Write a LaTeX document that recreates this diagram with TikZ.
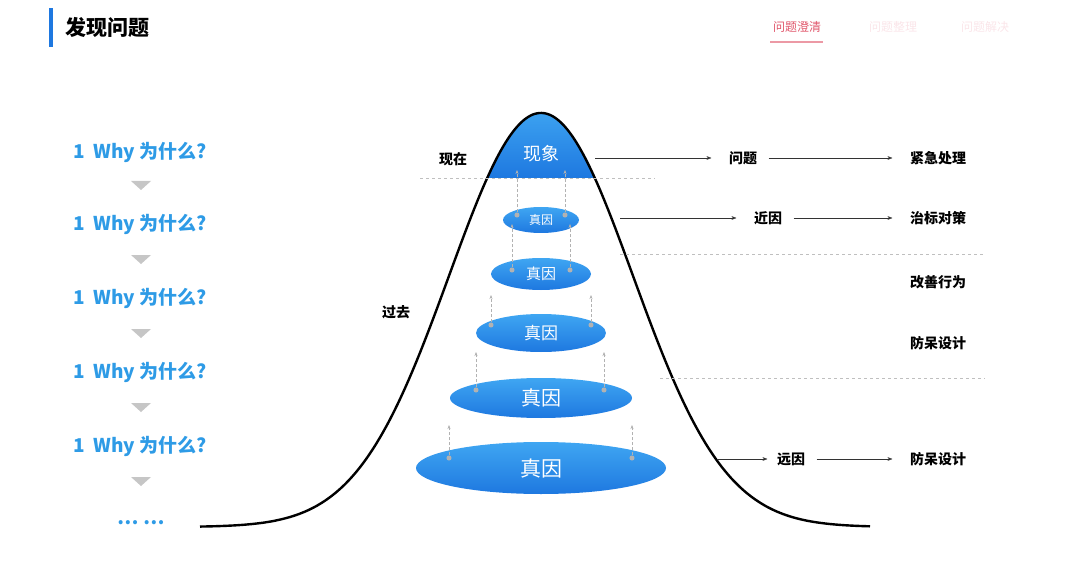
\documentclass[tikz,border=0pt]{standalone}
\usepackage{fontspec}
\setmainfont{Noto Sans CJK SC}
\usetikzlibrary{arrows.meta,shapes.geometric}
\definecolor{wblue}{HTML}{2E9BE6}
\definecolor{eblue}{HTML}{1E78E0}
\definecolor{elight}{HTML}{3FA6F2}
\definecolor{tabred}{HTML}{E0556A}
\tikzset{
  lbl/.style={font=\bfseries\fontsize{14}{16}\selectfont},
  why/.style={font=\bfseries\fontsize{19}{21}\selectfont, text=wblue},
  zy/.style={ellipse, draw=none, top color=elight, bottom color=eblue, text=white, inner sep=0pt},
  arr/.style={-{Stealth[length=5pt]}, thin, black!80, shorten >=14pt, shorten <=8pt},
  up/.style={-{Stealth[length=4pt]}, densely dashed, gray!60},
  dot/.style={circle, fill=gray!60, inner sep=1.8pt},
  dl/.style={dashed, gray!50},
  tri/.style={fill=gray!45}
}
\begin{document}
\begin{tikzpicture}[x=1pt,y=-1pt]
\useasboundingbox (0,0) rectangle (1080,567);
% header
\fill[eblue] (49,8) rectangle (53,47);
\node[font=\bfseries\fontsize{21}{23}\selectfont] (title) at (107,27) {发现问题};
\node[font=\fontsize{12}{14}\selectfont, text=tabred] (t1) at (797,27) {问题澄清};
\draw[tabred!60, line width=1.5pt] (770,42) -- (823,42);
\node[font=\fontsize{12}{14}\selectfont, text=tabred!15] (t2) at (893,27) {问题整理};
\node[font=\fontsize{12}{14}\selectfont, text=tabred!15] (t3) at (985,27) {问题解决};
% cap fill
\begin{scope}
\clip plot[domain=440:642, samples=80, smooth] (\x,{527-414*exp(-0.5*((\x-541)/92)^2)}) -- cycle;
\fill[top color=elight, bottom color=eblue] (430,105) rectangle (660,178);
\end{scope}
% bell
\draw[line width=2.4pt] plot[domain=200:870, samples=150, smooth] (\x,{527-414*exp(-0.5*((\x-541)/92)^2)});
% dashed lines
\draw[dl] (420,178) -- (655,178);
\draw[dl] (620,254) -- (985,254);
\draw[dl] (660,378) -- (985,378);
\node[text=white, font=\fontsize{18}{20}\selectfont] (xx) at (541,154) {现象};
% ellipses
\node[zy, minimum width=76pt, minimum height=26pt, font=\fontsize{12}{14}\selectfont] (e1) at (541,220) {真因};
\node[zy, minimum width=100pt, minimum height=32pt, font=\fontsize{15}{17}\selectfont] (e2) at (541,274) {真因};
\node[zy, minimum width=130pt, minimum height=38pt, font=\fontsize{17}{19}\selectfont] (e3) at (541,333) {真因};
\node[zy, minimum width=182pt, minimum height=40pt, font=\fontsize{20}{22}\selectfont] (e4) at (541,398) {真因};
\node[zy, minimum width=250pt, minimum height=52pt, font=\fontsize{21}{23}\selectfont] (e5) at (541,468) {真因};
% dots and up arrows
\foreach \n/\xa/\xb/\y/\t in {1/517/565/215/170, 2/512/570/270/224, 3/491/591/325/295, 4/476/604/390/352, 5/449/632/458/425}{
  \node[dot] (da\n) at (\xa,\y) {};
  \node[dot] (db\n) at (\xb,\y) {};
  \coordinate (ua\n) at (\xa,\t);
  \coordinate (ub\n) at (\xb,\t);
  \draw[up] (da\n) -- (ua\n);
  \draw[up] (db\n) -- (ub\n);
}
% labels
\node[lbl] (now) at (453,159) {现在};
\node[lbl] (past) at (396,312) {过去};
\node[lbl] (q) at (743,158) {问题};
\node[lbl] (q2) at (938,158) {紧急处理};
\node[lbl] (n) at (768,218) {近因};
\node[lbl] (n2) at (938,218) {治标对策};
\node[lbl] (g) at (938,282) {改善行为};
\node[lbl] (f) at (938,343) {防呆设计};
\node[lbl] (y) at (791,459) {远因};
\node[lbl] (y2) at (938,459) {防呆设计};
\coordinate (s1) at (595,158); \coordinate (s2) at (620,218); \coordinate (s3) at (717,459);
\draw[arr, shorten <=0pt] (s1) -- (q);
\draw[arr] (q) -- (q2);
\draw[arr, shorten <=0pt] (s2) -- (n);
\draw[arr] (n) -- (n2);
\draw[arr, shorten <=0pt, shorten >=6pt] (s3) -- (y);
\draw[arr] (y) -- (y2);
% left column
\foreach \i/\y in {1/152,2/224,3/298,4/372,5/446}{
  \node[why] (w\i) at (140,\y) {1\ \ Why 为什么?};
}
\foreach \i/\y in {1/186,2/260,3/334,4/408,5/482}{
  \fill[tri] (131,\y-5) -- (151,\y-5) -- (141,\y+4) -- cycle;
}
\node[why] (dots) at (141,523) {… …};
\end{tikzpicture}
\end{document}
